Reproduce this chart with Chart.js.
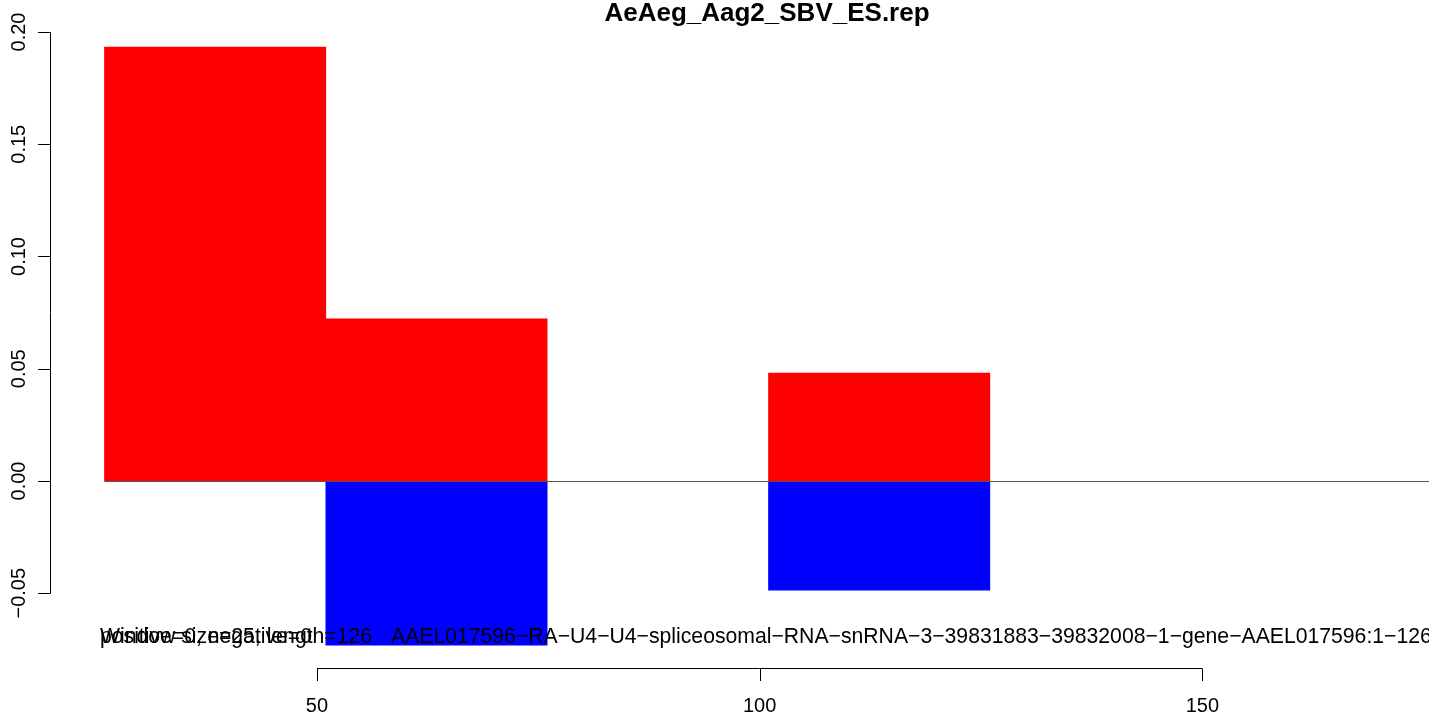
<!DOCTYPE html>
<html>
<head>
<meta charset="utf-8">
<title>AeAeg_Aag2_SBV_ES.rep</title>
<script src="https://cdn.jsdelivr.net/npm/chart.js@4.4.0/dist/chart.umd.min.js"></script>
<style>
    html, body { margin: 0; padding: 0; background: #fff; }
    #wrap { width: 1429px; height: 716px; position: relative; }
</style>
</head>
<body>
<div id="wrap"><canvas id="myChart" width="1429" height="716"></canvas></div>
<script>
// windows of 25 along the transcript
const binStart = [26, 51, 76, 101];
const binWidth = 25;
const positive = [0.1933, 0.0722, 0, 0.0481];
const negative = [0, -0.0731, 0, -0.0486];
const xTicks = [50, 100, 150];
const yTicks = [-0.05, 0, 0.05, 0.10, 0.15, 0.20];
const yTickText = ['\u22120.05', '0.00', '0.05', '0.10', '0.15', '0.20'];
const chartTitle = 'AeAeg_Aag2_SBV_ES.rep';
const infoLines = ['Window size=25, length=126', 'positive=0, negative=0'];
const geneName = 'AAEL017596\u2212RA\u2212U4\u2212U4\u2212spliceosomal\u2212RNA\u2212snRNA\u22123\u221239831883\u221239832008\u22121\u2212gene\u2212AAEL017596:1\u2212126';

const FONT = '"Liberation Sans", Arial, sans-serif';

function toPoints(vals) {
    let pts = [];
    binStart.forEach((s, i) => {
        if (vals[i] !== 0) pts.push({ x: s + binWidth / 2, y: vals[i] });
    });
    return pts;
}

const rAxes = {
    id: 'rAxes',
    afterDatasetsDraw(chart) {
        const ctx = chart.ctx;
        const xs = chart.scales.x, ys = chart.scales.y;
        ctx.save();

        // zero line
        const zy = Math.round(ys.getPixelForValue(0)) + 0.5;
        ctx.strokeStyle = '#555';
        ctx.lineWidth = 1;
        ctx.beginPath();
        ctx.moveTo(xs.getPixelForValue(binStart[0]), zy);
        ctx.lineTo(chart.width, zy);
        ctx.stroke();

        // y axis
        ctx.strokeStyle = '#000';
        const ax = 50.5;
        ctx.beginPath();
        ctx.moveTo(ax, ys.getPixelForValue(yTicks[0]));
        ctx.lineTo(ax, ys.getPixelForValue(yTicks[yTicks.length - 1]));
        yTicks.forEach(v => {
            const p = Math.round(ys.getPixelForValue(v)) + 0.5;
            ctx.moveTo(ax, p);
            ctx.lineTo(38, p);
        });
        ctx.stroke();
        ctx.fillStyle = '#000';
        ctx.font = '20px ' + FONT;
        ctx.textAlign = 'center';
        ctx.textBaseline = 'middle';
        yTicks.forEach((v, i) => {
            ctx.save();
            ctx.translate(19, ys.getPixelForValue(v));
            ctx.rotate(-Math.PI / 2);
            ctx.fillText(yTickText[i], 0, 0);
            ctx.restore();
        });

        // x axis
        const ay = 668.5;
        ctx.beginPath();
        ctx.moveTo(xs.getPixelForValue(xTicks[0]), ay);
        ctx.lineTo(xs.getPixelForValue(xTicks[xTicks.length - 1]), ay);
        xTicks.forEach(v => {
            const p = Math.round(xs.getPixelForValue(v)) + 0.5;
            ctx.moveTo(p, ay);
            ctx.lineTo(p, 681);
        });
        ctx.stroke();
        xTicks.forEach(v => {
            ctx.fillText(String(v), xs.getPixelForValue(v), 706);
        });

        // labels under the plot
        ctx.font = '21.2px ' + FONT;
        ctx.textAlign = 'left';
        ctx.textBaseline = 'alphabetic';
        infoLines.forEach(t => ctx.fillText(t, 100, 643));
        ctx.fillText(geneName, 391, 643);

        // title
        ctx.font = 'bold 26px ' + FONT;
        ctx.textAlign = 'center';
        ctx.fillText(chartTitle, 767, 21);
        ctx.restore();
    }
};

const ctx = document.getElementById('myChart');
new Chart(ctx, {
    type: 'bar',
    data: {
        datasets: [{
            label: 'positive',
            data: toPoints(positive),
            backgroundColor: '#ff0000',
            borderWidth: 0,
            grouped: false,
            barPercentage: 1,
            categoryPercentage: 1
        }, {
            label: 'negative',
            data: toPoints(negative),
            backgroundColor: '#0000ff',
            borderWidth: 0,
            grouped: false,
            barPercentage: 1,
            categoryPercentage: 1
        }]
    },
    options: {
        responsive: false,
        animation: false,
        events: [],
        layout: { padding: { left: 0, right: 0, top: 9.55, bottom: 55.4 } },
        plugins: { legend: { display: false }, tooltip: { enabled: false }, title: { display: false } },
        scales: {
            x: {
                type: 'linear', stacked: true, display: false, min: 14.2, max: 175.6, offset: false,
                afterBuildTicks: s => { s.ticks = xTicks.map(v => ({ value: v })); }
            },
            y: { stacked: true, display: false, min: -0.08, max: 0.21 }
        }
    },
    plugins: [rAxes]
});
</script>
</body>
</html>
